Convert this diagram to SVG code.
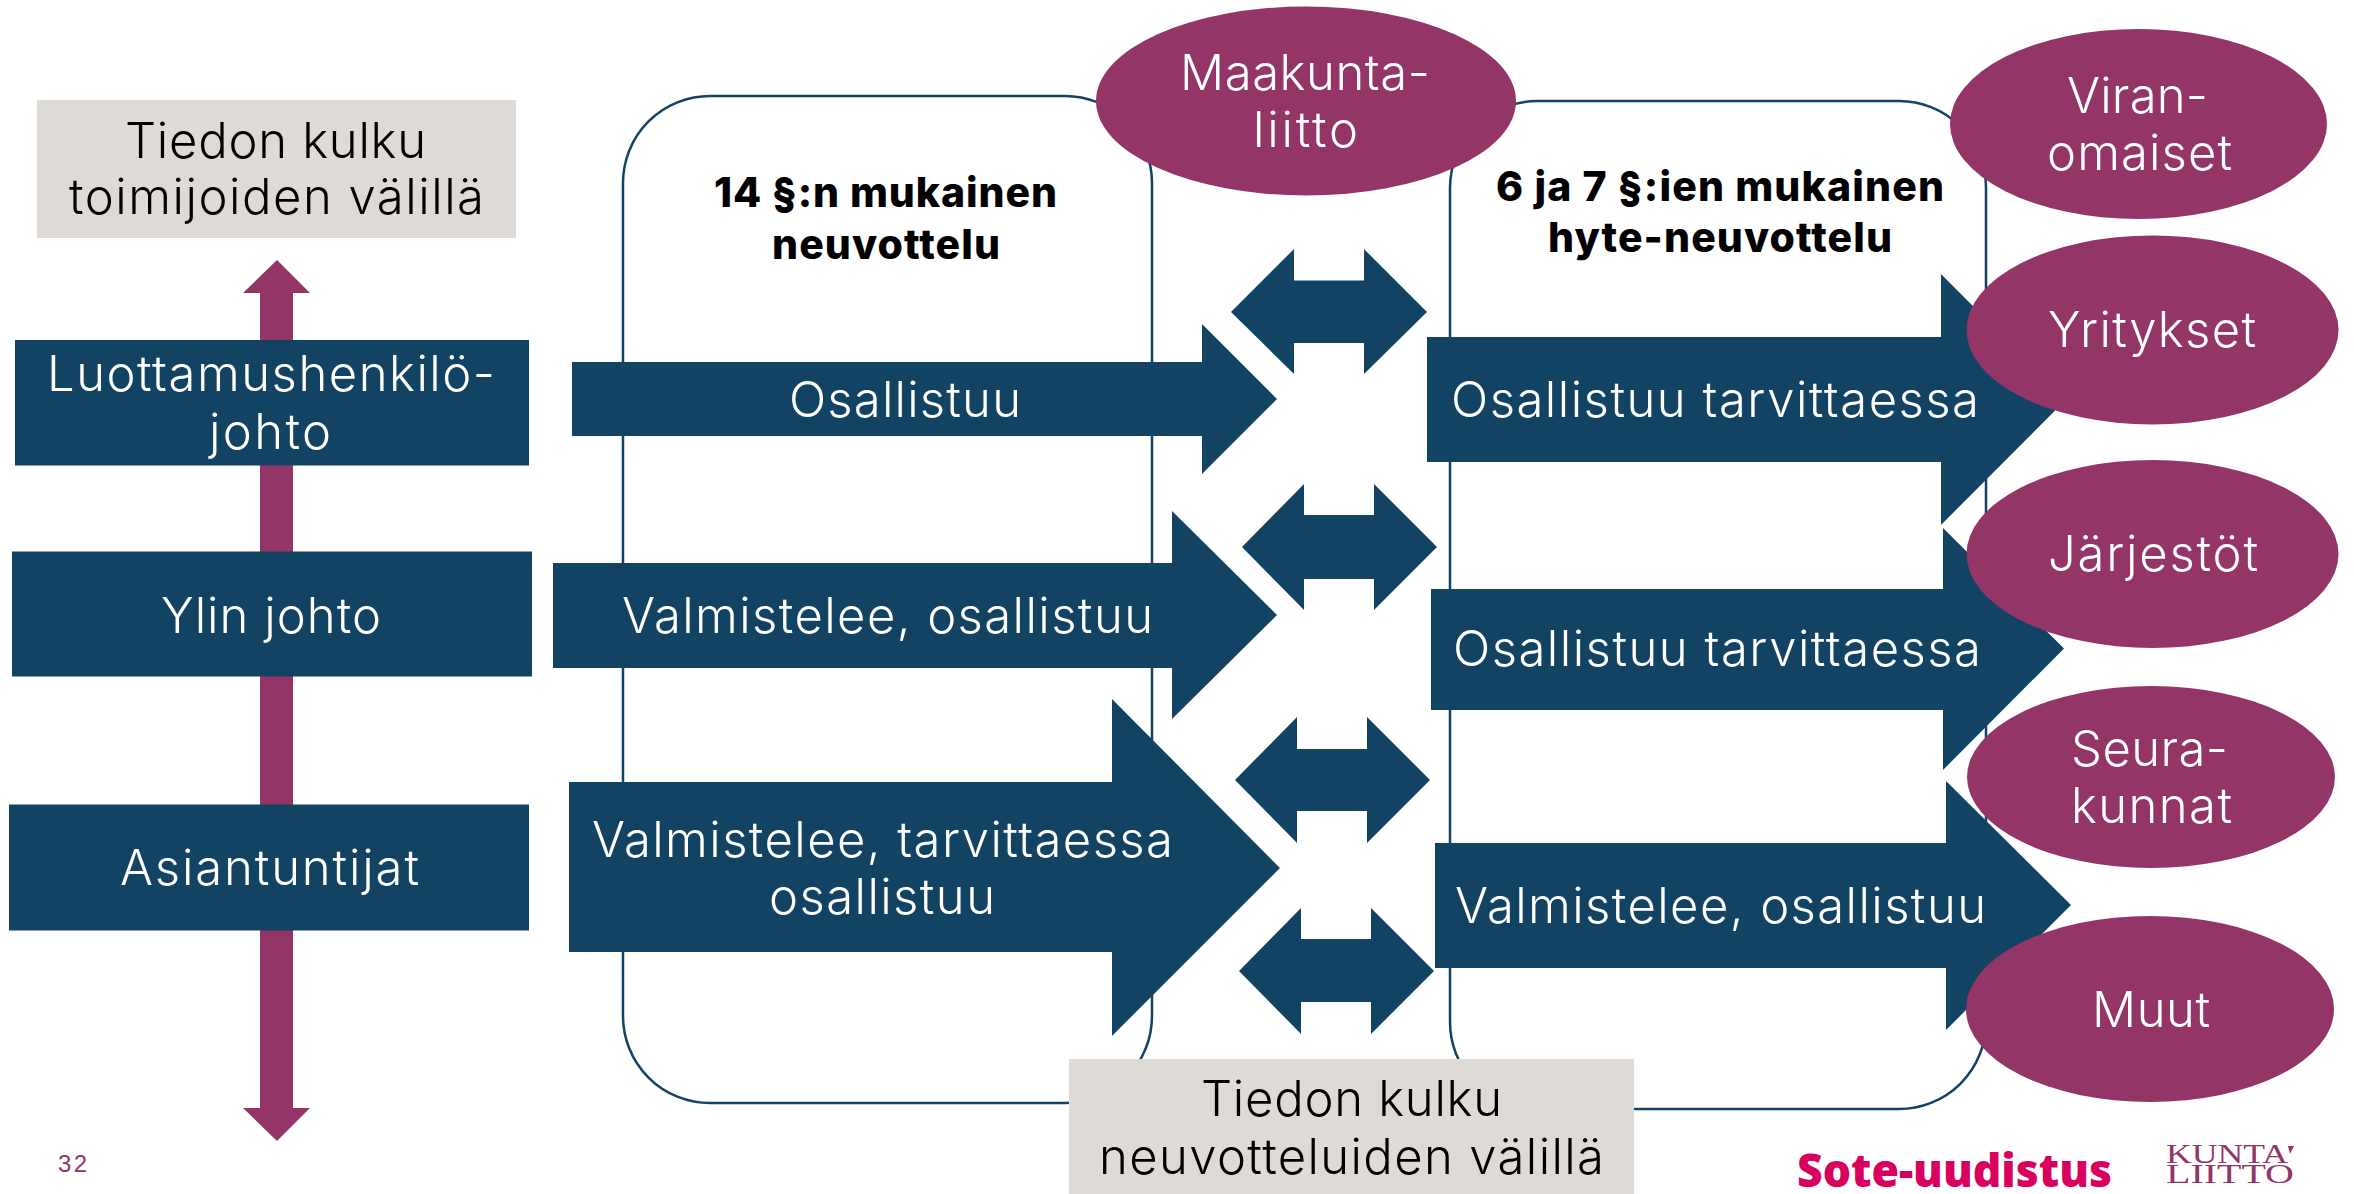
<svg xmlns="http://www.w3.org/2000/svg" width="2354" height="1194" viewBox="0 0 2354 1194">
<style>
.t{font-family:"Inter","Noto Sans",sans-serif;font-weight:300;font-size:49px}
.w{fill:#fff}.k{fill:#000}
.h{font-family:"Inter","Liberation Sans",sans-serif;font-weight:800;font-size:41px;fill:#000}
.navy{fill:#134363}.plum{fill:#933567}.grey{fill:#dedad6}
.frame{fill:none;stroke:#134363;stroke-width:2.5}
</style>
<rect width="2354" height="1194" fill="#fff"/>
<g id="flow-axis"><polygon class="plum" points="277,260 310,293 293,293 293,1108 310,1108 277,1141 243,1108 260,1108 260,293 243,293"/></g>
<g id="frame-14"><rect class="frame" x="623" y="96" width="529" height="1007" rx="87"/></g>
<g id="frame-6-7"><rect class="frame" x="1450" y="101" width="536" height="1008" rx="87"/></g>
<g id="connectors">
<polygon class="navy" points="1231,312 1294,249 1294,280.500 1364,280.500 1364,249 1427,312 1364,374 1364,343 1294,343 1294,374"/>
<polygon class="navy" points="1242,547 1304,484 1304,515 1374,515 1374,484 1437,547 1374,610 1374,579 1304,579 1304,610"/>
<polygon class="navy" points="1235,780 1297,717 1297,749 1367,749 1367,717 1430,780 1367,843 1367,811 1297,811 1297,843"/>
<polygon class="navy" points="1239,971 1301,908 1301,939 1371,939 1371,908 1434,971 1371,1034 1371,1002 1301,1002 1301,1034"/>
</g>
<g id="arrow-l1"><polygon class="navy" points="572,362 1202,362 1202,324 1277,399 1202,474 1202,436 572,436"/><text class="t w" x="789" y="417" textLength="232">Osallistuu</text></g>
<g id="arrow-l2"><polygon class="navy" points="553,563 1172,563 1172,511 1277,615 1172,719 1172,668 553,668"/><text class="t w" x="622" y="633" textLength="531">Valmistelee, osallistuu</text></g>
<g id="arrow-l3"><polygon class="navy" points="569,782 1112,782 1112,699 1280,868 1112,1036 1112,952 569,952"/><text class="t w" x="592" y="857" textLength="581">Valmistelee, tarvittaessa</text><text class="t w" x="769" y="914" textLength="226">osallistuu</text></g>
<g id="arrow-r1"><polygon class="navy" points="1427,337 1941,337 1941,274 2066,399.500 1941,525 1941,462 1427,462"/><text class="t w" x="1451" y="417" textLength="528">Osallistuu tarvittaessa</text></g>
<g id="arrow-r2"><polygon class="navy" points="1431,589 1943,589 1943,528 2064,648.500 1943,770 1943,710 1431,710"/><text class="t w" x="1453" y="666" textLength="528">Osallistuu tarvittaessa</text></g>
<g id="arrow-r3"><polygon class="navy" points="1435,843 1946,843 1946,781 2071,905 1946,1030 1946,968 1435,968"/><text class="t w" x="1455" y="923" textLength="531">Valmistelee, osallistuu</text></g>
<g id="box-flow-actors"><rect class="grey" x="37" y="100" width="479" height="138"/><text class="t k" x="125" y="158" textLength="301">Tiedon kulku</text><text class="t k" x="69" y="214" textLength="415">toimijoiden välillä</text></g>
<g id="box-luottamus"><rect class="navy" x="15" y="340" width="514" height="125.500"/><text class="t w" x="47" y="391" textLength="448">Luottamushenkilö-</text><text class="t w" x="209" y="449" textLength="122">johto</text></g>
<g id="box-ylin"><rect class="navy" x="12" y="551.500" width="520" height="125"/><text class="t w" x="161" y="633" textLength="220">Ylin johto</text></g>
<g id="box-asiantuntijat"><rect class="navy" x="9" y="804.500" width="520" height="126"/><text class="t w" x="120" y="885" textLength="299">Asiantuntijat</text></g>
<g id="title-14"><text class="h" x="714" y="207" textLength="343">14 §:n mukainen</text><text class="h" x="772" y="259" textLength="228">neuvottelu</text></g>
<g id="title-6-7"><text class="h" x="1496" y="201" textLength="448">6 ja 7 §:ien mukainen</text><text class="h" x="1548" y="252" textLength="344">hyte-neuvottelu</text></g>
<g id="node-maakunta"><ellipse class="plum" cx="1306" cy="101" rx="210" ry="94.500"/><text class="t w" x="1180" y="90" textLength="250">Maakunta-</text><text class="t w" x="1253" y="147" textLength="105">liitto</text></g>
<g id="node-viran"><ellipse class="plum" cx="2138.500" cy="124" rx="188.500" ry="95"/><text class="t w" x="2067" y="113" textLength="141">Viran-</text><text class="t w" x="2047" y="170" textLength="185">omaiset</text></g>
<g id="node-yritykset"><ellipse class="plum" cx="2152.500" cy="330" rx="186" ry="94.500"/><text class="t w" x="2048" y="347" textLength="208">Yritykset</text></g>
<g id="node-jarjestot"><ellipse class="plum" cx="2152.500" cy="554" rx="186" ry="94"/><text class="t w" x="2048" y="571" textLength="210">Järjestöt</text></g>
<g id="node-seura"><ellipse class="plum" cx="2151" cy="777" rx="184" ry="91"/><text class="t w" x="2071" y="766" textLength="157">Seura-</text><text class="t w" x="2071" y="823" textLength="161">kunnat</text></g>
<g id="node-muut"><ellipse class="plum" cx="2150" cy="1009" rx="184" ry="93"/><text class="t w" x="2092" y="1027" textLength="118">Muut</text></g>
<g id="box-flow-talks"><rect class="grey" x="1069" y="1059" width="565" height="135"/><text class="t k" x="1201" y="1116" textLength="301">Tiedon kulku</text><text class="t k" x="1099" y="1174" textLength="505">neuvotteluiden välillä</text></g>
<text x="58" y="1172" textLength="29" font-family="Liberation Sans,sans-serif" font-size="24" fill="#933567">32</text>
<g id="logos"><text x="1797" y="1187" textLength="315" lengthAdjust="spacingAndGlyphs" font-family="Open Sans,sans-serif" font-weight="800" font-size="46" fill="#d90060">Sote-uudistus</text>
<text x="2166" y="1163" textLength="122" lengthAdjust="spacingAndGlyphs" font-family="Liberation Serif,serif" font-size="27" fill="#933567">KUNTA</text><polygon points="2288,1146 2294,1146 2290,1154" fill="#933567"/>
<text x="2166" y="1183" textLength="128" lengthAdjust="spacingAndGlyphs" font-family="Liberation Serif,serif" font-size="27" fill="#933567">LIITTO</text></g>
</svg>
